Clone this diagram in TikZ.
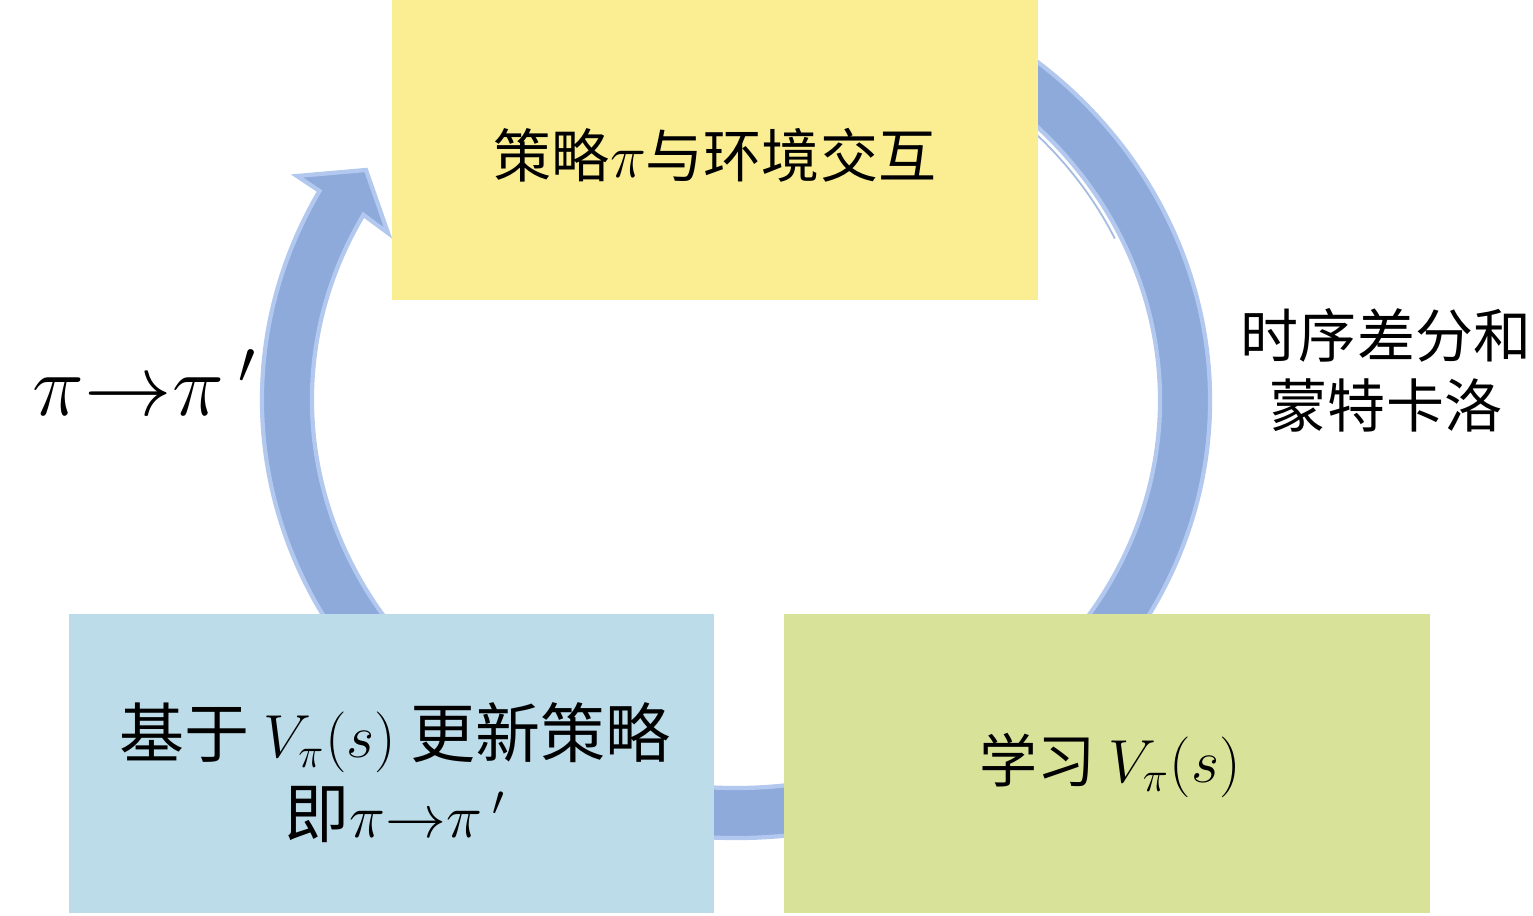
\documentclass[tikz,border=0pt]{standalone}
\usepackage{fontspec}
\newfontfamily\cjk{Noto Sans CJK SC}
\usetikzlibrary{calc}
\definecolor{ringc}{RGB}{142,170,219}
\definecolor{ringedge}{RGB}{178,200,238}
\definecolor{yellowbox}{RGB}{251,237,145}
\definecolor{bluebox}{RGB}{189,220,233}
\definecolor{greenbox}{RGB}{216,227,153}
\newcommand{\mth}[1]{{\fontsize{16.5}{20}\selectfont$#1$}}
\newcommand{\tightarrow}{\mathord{\rightarrow}}
\begin{document}
\begin{tikzpicture}[x=0.01cm,y=-0.01cm,
  box/.style={draw=none,inner sep=0,minimum width=6.46cm,minimum height=3cm},
  txt/.style={inner sep=0,align=center,font=\cjk\fontsize{16.5}{19.9}\selectfont},
  bigtxt/.style={inner sep=0,align=center,font=\cjk\fontsize{18.5}{22.7}\selectfont}]
\useasboundingbox (0,0) rectangle (1533,916);
\fill[white] (0,0) rectangle (1533,916);
% circular arrow
\coordinate (c) at (736,400);
\filldraw[fill=ringc,draw=ringedge,line width=1.2pt,line join=miter]
  ($(c)+(-60:474 and 438)$) arc[start angle=-60,end angle=208.5,x radius=474,y radius=438]
  -- (297,176) -- (366,170) -- (388,233)
  -- ($(c)+(208.5:424 and 388)$)
  arc[start angle=208.5,end angle=-60,x radius=424,y radius=388] -- cycle;
\draw[ringc!80,line width=0.5pt] ($(c)+(-60:418 and 382)$) arc[start angle=-60,end angle=-25,x radius=418,y radius=382];
% boxes
\node[box,fill=yellowbox] (top) at (715,150) {};
\node[box,fill=bluebox,minimum width=6.45cm,minimum height=2.99cm] (left) at (391.5,763.5) {};
\node[box,fill=greenbox,minimum height=2.99cm] (right) at (1107,763.5) {};
% texts
\node[txt] (toptxt) at (715,155) {策略\mth{\pi}与环境交互};
\node[bigtxt] (lefttxt) at (395,773) {基于 \mth{V_\pi(s)} 更新策略\\即{\fontsize{17.5}{20}\selectfont$\pi\tightarrow\pi\,'$}};
\node[txt] (righttxt) at (1110,765) {学习 \mth{V_\pi(s)}};
\node[txt] (tdmc) at (1386,370) {时序差分和\\蒙特卡洛};
\node[inner sep=0,font=\fontsize{23}{27}\selectfont] (pipi) at (145,383) {$\pi\tightarrow\pi\,'$};
\end{tikzpicture}
\end{document}
